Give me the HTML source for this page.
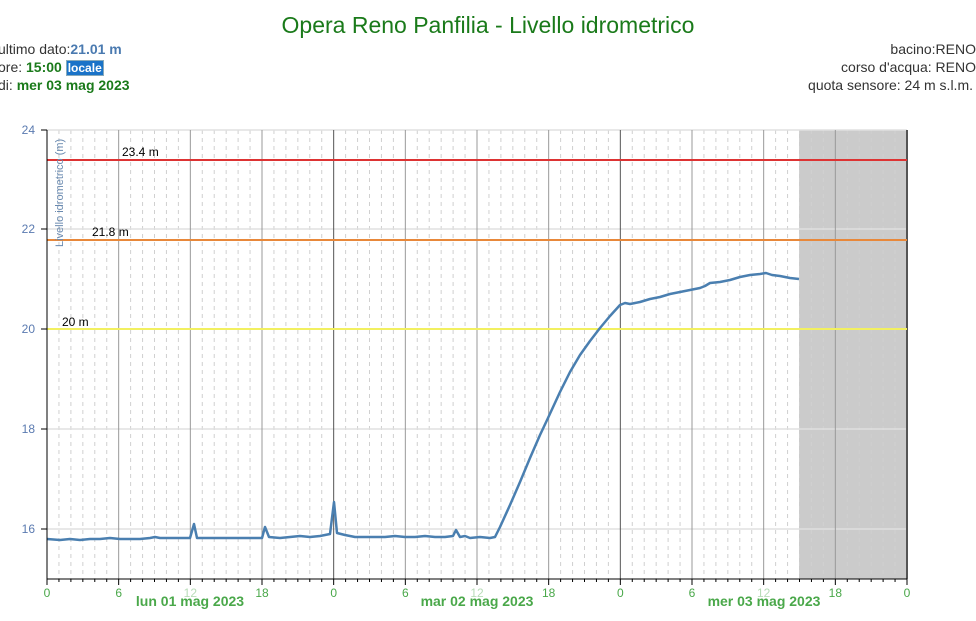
<!DOCTYPE html>
<html><head><style>
body{margin:0;background:#fff;font-family:"Liberation Sans",sans-serif;}
.t{position:absolute;font-size:14px;color:#333;white-space:nowrap}
</style></head><body>
<div style="position:relative;width:976px;height:621px;overflow:hidden">
<div style="position:absolute;top:12px;left:0;width:976px;text-align:center;font-size:23px;color:#1a7a1a">Opera Reno Panfilia - Livello idrometrico</div>
<div class="t" style="left:-2px;top:41px">ultimo dato:<b style="color:#4a7ab0">21.01 m</b></div>
<div class="t" style="left:-2px;top:59px">ore: <b style="color:#1a7a1a">15:00</b> <b style="background:#1a73c8;color:#fff;font-size:12px;padding:0 1px;border:1px solid #8ab">locale</b></div>
<div class="t" style="left:-2px;top:77px">di: <b style="color:#1a7a1a">mer 03 mag 2023</b></div>
<div class="t" style="right:0;top:41px">bacino:RENO</div>
<div class="t" style="right:0;top:59px">corso d'acqua: RENO</div>
<div class="t" style="right:3px;top:77px">quota sensore: 24 m s.l.m.</div>
<svg width="976" height="621" style="position:absolute;left:0;top:0" font-family="Liberation Sans,sans-serif">
<rect x="799" y="130" width="108" height="449" fill="#cbcbcb"/>
<g id="minor" stroke="#d0d0d0" stroke-dasharray="4,4" stroke-width="1"></g>
<g stroke="#e0e0e0" stroke-width="1.5">
<line x1="47" x2="907" y1="130" y2="130"/><line x1="47" x2="907" y1="229" y2="229"/><line x1="47" x2="907" y1="329" y2="329"/><line x1="47" x2="907" y1="429" y2="429"/><line x1="47" x2="907" y1="529" y2="529"/>
</g>
<g id="major"></g>
<line x1="47" x2="907" y1="160" y2="160" stroke="#d33" stroke-width="2"/>
<line x1="47" x2="907" y1="240" y2="240" stroke="#e8883a" stroke-width="2"/>
<line x1="47" x2="907" y1="329" y2="329" stroke="#f2f060" stroke-width="2"/>
<text x="122" y="156" font-size="12">23.4 m</text>
<text x="92" y="236" font-size="12">21.8 m</text>
<text x="62" y="326" font-size="12">20 m</text>
<text transform="translate(63,247) rotate(-90)" font-size="11" fill="#6a8ab0">Livello idrometrico (m)</text>
<polyline fill="none" stroke="#4a7fb0" stroke-width="2.5" stroke-linejoin="round" points="47,539 60,540 70,539 80,540 90,539 100,539 110,538 120,539 130,539 140,539 150,538 155,537 160,538 170,538 180,538 190,538 194,524 197,538 210,538 220,538 230,538 240,538 255,538 262,538 265,527 269,537 280,538 290,537 300,536 310,537 320,536 330,534 334,502 337,533 345,535 355,537 365,537 375,537 385,537 395,536 405,537 415,537 425,536 435,537 445,537 453,536 456,530 460,537 465,536 470,538 480,537 490,538 495,537 500,527 510,505 520,482 530,458 540,435 548,418 560,392 570,372 580,355 590,341 600,328 610,316 620,305 625,303 630,304 640,302 650,299 660,297 670,294 680,292 690,290 700,288 705,286 710,283 720,282 730,280 740,277 750,275 760,274 766,273 772,275 780,276 790,278 799,279"/>
<line x1="47" x2="907" y1="579" y2="579" stroke="#000"/>
<line x1="47" x2="47" y1="130" y2="579" stroke="#000"/>
<g font-size="12" fill="#5a7ab0" text-anchor="end">
<text x="35" y="134">24</text><text x="35" y="233">22</text><text x="35" y="333">20</text><text x="35" y="433">18</text><text x="35" y="533">16</text>
</g>
<g stroke="#000"><line x1="41" x2="47" y1="130" y2="130"/><line x1="41" x2="47" y1="229" y2="229"/><line x1="41" x2="47" y1="329" y2="329"/><line x1="41" x2="47" y1="429" y2="429"/><line x1="41" x2="47" y1="529" y2="529"/></g>
<g id="xt" font-size="12" fill="#4aa84a" text-anchor="middle"></g>
<g font-size="14" font-weight="bold" fill="#4aa84a" text-anchor="middle">
<text x="190" y="606">lun 01 mag 2023</text><text x="477" y="606">mar 02 mag 2023</text><text x="764" y="606">mer 03 mag 2023</text>
</g>
</svg>
<script>
var ns="http://www.w3.org/2000/svg",s=860/72;
function el(p,t,a,txt){var e=document.createElementNS(ns,t);for(var k in a)e.setAttribute(k,a[k]);if(txt)e.textContent=txt;document.getElementById(p).appendChild(e);}
for(var h=1;h<72;h++){if(h%6)el("minor","line",{x1:47+h*s,x2:47+h*s,y1:130,y2:579});}
for(var h=0;h<=72;h+=6){var x=47+h*s;el("major","line",{x1:x,x2:x,y1:130,y2:579,stroke:h%24?"#999":"#555","stroke-width":h==72?2:1});
el("xt","text",{x:x,y:597,fill:h%24==12?"#b8dcb8":"#4aa84a"},String(h%24));el("xt","line",{x1:x,x2:x,y1:579,y2:585,stroke:"#000"});}
for(var h=1;h<72;h++){if(h%6){var x=47+h*s;el("xt","line",{x1:x,x2:x,y1:579,y2:582,stroke:"#000"});}}
</script>
</div></body></html>
